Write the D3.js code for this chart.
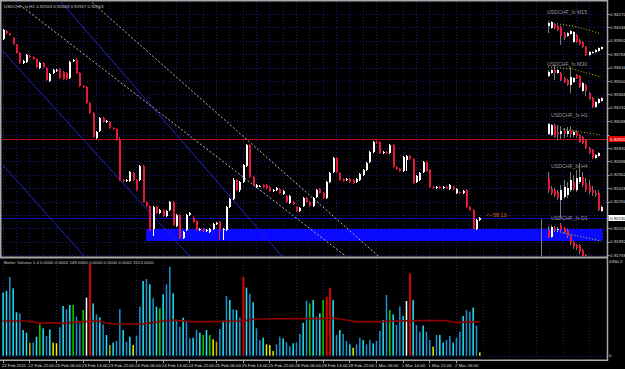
<!DOCTYPE html>
<html>
<head>
<meta charset="utf-8">
<script src="https://cdn.jsdelivr.net/npm/d3@7"></script>
<style>
  body { margin: 0; background: #000; }
  svg { display: block; }
  text { font-family: "Liberation Sans", Arial, sans-serif; }
</style>
</head>
<body>
<div id="container"></div>
<script>
// ---- data ----
const headerText = "USDCHF_fx,H1 0.92563 0.92569 0.92557 0.92563";
const volumeTitle = "Better Volume 1.4 0.0000 0.0000 149.0000 0.0000 0.0000 0.0000 1513.0000";

// H1 candles, bar 0 = 22 Feb 14:00
const opens = [.9392,.9400,.9398,.9393,.9387,.9378,.9368,.9369,.9375,.9374,
  .9372,.9363,.9368,.9363,.9350,.9358,.9360,.9362,.9359,.9358,
  .9353,.9370,.9371,.9358,.9345,.9344,.9328,.9318,.9293,.9300,
  .9313,.9309,.9309,.9303,.9302,.9291,.9251,.9250,.9250,.9258,
  .9251,.9251,.9265,.9229,.9225,.9202,.9224,.9218,.9221,.9215,
  .9221,.9229,.9205,.9216,.9193,.9201,.9216,.9213,.9210,.9201,
  .9202,.9200,.9199,.9202,.9207,.9209,.9201,.9201,.9224,.9232,
  .9251,.9241,.9249,.9265,.9286,.9254,.9244,.9245,.9246,.9246,
  .9244,.9240,.9241,.9242,.9237,.9235,.9228,.9229,.9224,.9220,
  .9225,.9233,.9229,.9225,.9234,.9242,.9238,.9233,.9249,.9259,
  .9273,.9258,.9252,.9251,.9252,.9251,.9249,.9251,.9256,.9261,
  .9269,.9279,.9289,.9289,.9278,.9279,.9278,.9286,.9264,.9262,
  .9260,.9271,.9275,.9272,.9249,.9251,.9259,.9269,.9261,.9244,
  .9243,.9244,.9243,.9244,.9242,.9244,.9238,.9239,.9238,.9241,
  .9224,.9221,.9202,.9211];
const highs = [.9402,.9401,.9398,.9394,.9387,.9379,.9371,.9377,.9376,.9375,
  .9373,.9369,.9369,.9364,.9358,.9362,.9362,.9363,.9360,.9359,
  .9370,.9372,.9373,.9359,.9346,.9345,.9329,.9319,.9300,.9314,
  .9314,.9311,.9310,.9304,.9303,.9294,.9252,.9252,.9260,.9259,
  .9252,.9266,.9266,.9230,.9226,.9225,.9225,.9222,.9222,.9221,
  .9230,.9230,.9217,.9217,.9200,.9217,.9219,.9215,.9211,.9203,
  .9203,.9202,.9203,.9208,.9209,.9210,.9203,.9225,.9233,.9253,
  .9252,.9250,.9267,.9287,.9287,.9255,.9247,.9246,.9247,.9247,
  .9245,.9242,.9244,.9243,.9241,.9236,.9236,.9230,.9225,.9224,
  .9234,.9234,.9230,.9234,.9242,.9243,.9239,.9250,.9259,.9274,
  .9274,.9259,.9253,.9253,.9253,.9252,.9253,.9258,.9262,.9269,
  .9280,.9290,.9291,.9290,.9280,.9280,.9287,.9287,.9265,.9263,
  .9275,.9276,.9276,.9273,.9256,.9259,.9270,.9270,.9262,.9245,
  .9245,.9245,.9245,.9245,.9247,.9245,.9243,.9240,.9241,.9242,
  .9225,.9222,.9212,.9214];
const lows = [.9391,.9397,.9395,.9386,.9377,.9367,.9367,.9368,.9373,.9371,
  .9363,.9362,.9363,.9350,.9349,.9357,.9359,.9352,.9351,.9351,
  .9352,.9369,.9357,.9344,.9343,.9327,.9317,.9293,.9292,.9299,
  .9308,.9308,.9302,.9301,.9290,.9250,.9249,.9249,.9249,.9250,
  .9240,.9250,.9228,.9224,.9200,.9195,.9217,.9217,.9214,.9214,
  .9220,.9205,.9204,.9192,.9192,.9200,.9215,.9208,.9200,.9200,
  .9199,.9199,.9198,.9201,.9206,.9191,.9191,.9200,.9223,.9231,
  .9240,.9239,.9248,.9264,.9253,.9245,.9243,.9244,.9243,.9242,
  .9239,.9239,.9240,.9237,.9236,.9228,.9227,.9226,.9219,.9219,
  .9224,.9228,.9224,.9224,.9233,.9237,.9232,.9232,.9248,.9258,
  .9258,.9250,.9249,.9250,.9248,.9247,.9248,.9250,.9255,.9260,
  .9268,.9278,.9287,.9277,.9277,.9277,.9277,.9263,.9261,.9259,
  .9259,.9260,.9271,.9247,.9248,.9250,.9258,.9259,.9243,.9242,
  .9242,.9242,.9242,.9242,.9241,.9241,.9237,.9237,.9237,.9223,
  .9220,.9201,.9201,.9210];
const closes = [.9401,.9398,.9396,.9387,.9378,.9368,.9370,.9376,.9374,.9372,
  .9364,.9368,.9364,.9351,.9357,.9361,.9361,.9353,.9352,.9352,
  .9369,.9371,.9358,.9345,.9344,.9328,.9318,.9294,.9299,.9313,
  .9309,.9310,.9303,.9302,.9291,.9251,.9250,.9251,.9259,.9251,
  .9241,.9265,.9229,.9225,.9201,.9224,.9218,.9221,.9215,.9220,
  .9229,.9206,.9216,.9193,.9199,.9216,.9218,.9209,.9201,.9202,
  .9200,.9201,.9202,.9207,.9208,.9201,.9202,.9224,.9232,.9251,
  .9241,.9249,.9266,.9286,.9254,.9246,.9246,.9245,.9244,.9243,
  .9240,.9241,.9243,.9238,.9240,.9229,.9235,.9227,.9220,.9223,
  .9233,.9229,.9225,.9233,.9241,.9238,.9233,.9249,.9258,.9273,
  .9259,.9251,.9250,.9252,.9249,.9248,.9252,.9257,.9261,.9268,
  .9279,.9289,.9288,.9278,.9279,.9278,.9286,.9264,.9262,.9260,
  .9274,.9275,.9272,.9248,.9255,.9258,.9269,.9260,.9244,.9243,
  .9244,.9243,.9244,.9243,.9246,.9242,.9242,.9238,.9240,.9224,
  .9221,.9202,.9211,.9213];

// Better Volume histogram
const volumes = [2836,2911,3541,3031,1951,1906,1156,1036,586,601,
  856,1411,1231,886,1186,586,556,1276,2236,2086,
  2281,2281,1756,1456,2056,2611,4111,2356,1861,1726,
  1411,931,481,586,661,2101,1156,631,856,481,
  901,2206,3361,3451,3211,2581,2206,2131,2761,3211,
  4006,2806,1606,1306,1711,1531,781,811,1156,1036,
  931,1156,931,736,631,1201,1576,2686,2506,2086,
  2056,1711,3556,3061,2776,2401,1231,706,811,511,
  481,211,511,856,781,601,436,556,601,976,
  1486,2476,2356,2506,1756,1906,2506,2656,3061,2506,
  931,1156,976,661,511,361,511,811,706,511,
  706,556,661,1111,1606,2731,2056,1861,1381,2206,
  1786,2461,3706,2506,1381,1081,1351,1081,706,406,
  931,931,586,706,886,586,811,1081,1786,2056,
  1981,2161,1351,149];
const volumeKinds = ["c","c","b","c","c","b","c","c","o","b",
  "c","g","c","b","c","y","y","b","c","b",
  "c","g","b","b","g","w","r","c","b","c",
  "b","c","o","c","b","b","c","b","c","y",
  "b","b","c","b","c","b","c","g","c","b",
  "b","c","b","b","c","b","b","c","b","c",
  "g","c","g","y","o","b","c","b","c","b",
  "c","b","r","c","b","c","b","b","c","y",
  "y","y","b","b","c","b","b","c","b","b",
  "c","b","g","c","b","c","g","r","r","c",
  "b","c","b","b","c","y","b","b","c","b",
  "b","c","b","b","c","b","g","c","b","b",
  "c","w","r","c","b","b","c","b","b","y",
  "b","c","c","b","b","c","b","b","c","b",
  "b","c","b","y"];
const volAvgBars = [0,6,9,11,14,18,24,29,31,34,42,45,48,51,56,62,72,76,88,93,100,103,106,113,118,126,133,136,140,143];
const volAvgValues = [1561,1561,1531,1456,1486,1456,1531,1561,1456,1426,1426,1486,1561,1606,1531,1531,1561,1651,1666,1666,1681,1606,1531,1531,1561,1576,1576,1486,1531,1513];

// time axis
const timeLabels = ["22 Feb 2011","22 Feb 22:00","23 Feb 06:00","23 Feb 14:00","23 Feb 22:00","24 Feb 06:00",
  "24 Feb 14:00","24 Feb 22:00","25 Feb 06:00","25 Feb 14:00","25 Feb 22:00","28 Feb 06:00",
  "28 Feb 14:00","28 Feb 22:00","1 Mar 06:00","1 Mar 14:00","1 Mar 22:00","2 Mar 06:00"];
const timeLabelBars = [0,8,16,24,32,40,48,56,64,72,80,88,96,104,112,120,128,136];

// price axis
const priceTicks = [0.94170,0.94036,0.93902,0.93768,0.93634,0.93500,0.93366,0.93232,0.93098,
  0.92964,0.92830,0.92696,0.92562,0.92428,0.92294,0.92160,0.92026,0.91892,0.91758];
const volAxisLabels = ["4350.2", "0"];

// objects on the chart: [bar1, price1, bar2, price2]
const blueTrendLines = [[0,0.9380,56,0.9175],[0,0.9266,25,0.9173],[17,0.9431,84,0.9174]];
const grayTrendLines = [[6,0.9424,104,0.9172],[26,0.9431,114,0.9171]];
const zoneBars = [43, 180];
const zonePrices = [0.9202, 0.9190];
const redLevel = 0.9292;
const blueLevel = 0.9213;
const countdownText = "<--58:13";

// multi-timeframe mini charts, rows [open, high, low, close]
const miniTitles = ["USDCHF_fx M15","USDCHF_fx M30","USDCHF_fx H1","USDCHF_fx H4","USDCHF_fx D1"];
const m15Candles = [[.9405,.9410,.9398,.9408],[.9403,.9410,.9402,.9409],[.9407,.9408,.9402,.9403],[.9405,.9406,.9400,.9401],
  [.9404,.9405,.9386,.9395],[.9398,.9399,.9391,.9393],[.9395,.9399,.9394,.9398],[.9397,.9401,.9396,.9400],
  [.9389,.9400,.9388,.9399],[.9396,.9397,.9388,.9389],[.9391,.9392,.9386,.9387],[.9389,.9390,.9383,.9384],
  [.9384,.9385,.9375,.9376],[.9376,.9380,.9375,.9379],[.9378,.9380,.9377,.9379],[.9379,.9382,.9378,.9381],
  [.9380,.9384,.9379,.9383],[.9382,.9385,.9381,.9384]];
const m30Candles = [[.9355,.9361,.9354,.9359],[.9358,.9362,.9357,.9361],[.9361,.9366,.9351,.9358],[.9358,.9362,.9357,.9361],
  [.9358,.9359,.9350,.9351],[.9353,.9354,.9348,.9349],[.9351,.9352,.9345,.9346],[.9346,.9364,.9338,.9354],
  [.9349,.9354,.9348,.9353],[.9356,.9357,.9352,.9353],[.9355,.9356,.9343,.9344],[.9340,.9349,.9339,.9348],
  [.9346,.9347,.9335,.9340],[.9338,.9339,.9331,.9332],[.9333,.9334,.9323,.9324],[.9324,.9330,.9323,.9329],
  [.9328,.9333,.9327,.9332],[.9330,.9334,.9329,.9333]];
const h1Candles = [[.9297,.9308,.9296,.9307],[.9296,.9307,.9295,.9306],[.9306,.9307,.9293,.9294],[.9299,.9306,.9291,.9297],
  [.9297,.9305,.9292,.9300],[.9300,.9303,.9293,.9298],[.9297,.9304,.9294,.9300],[.9300,.9305,.9293,.9297],
  [.9296,.9301,.9294,.9299],[.9299,.9301,.9293,.9295],[.9296,.9297,.9288,.9289],[.9294,.9295,.9287,.9288],
  [.9291,.9292,.9282,.9283],[.9283,.9284,.9277,.9278],[.9281,.9282,.9272,.9273],[.9273,.9277,.9272,.9276],
  [.9275,.9279,.9274,.9278]];
const h4Candles = [[.9253,.9259,.9238,.9241],[.9242,.9245,.9236,.9238],[.9241,.9243,.9234,.9236],[.9239,.9241,.9231,.9233],
  [.9231,.9246,.9213,.9241],[.9234,.9251,.9232,.9244],[.9236,.9249,.9233,.9243],[.9241,.9259,.9239,.9251],
  [.9249,.9256,.9240,.9242],[.9241,.9261,.9239,.9253],[.9249,.9268,.9247,.9254],[.9254,.9259,.9244,.9246],
  [.9248,.9253,.9239,.9241],[.9246,.9251,.9237,.9239],[.9241,.9245,.9235,.9238],[.9238,.9241,.9234,.9236],
  [.9238,.9241,.9220,.9221],[.9220,.9226,.9219,.9224]];
const d1Candles = [[.9201,.9205,.9193,.9194],[.9194,.9206,.9193,.9204],[.9203,.9205,.9199,.9201],[.9201,.9204,.9200,.9202],
  [.9206,.9208,.9199,.9201],[.9203,.9204,.9197,.9199],[.9201,.9202,.9193,.9195],[.9195,.9196,.9186,.9188],
  [.9189,.9190,.9182,.9184],[.9186,.9187,.9181,.9183],[.9186,.9187,.9177,.9179],[.9181,.9182,.9173,.9174],
  [.9176,.9177,.9169,.9171]];
// moving averages on the mini charts: [slot, price]
const m15Avg = [[1,.9408],[8,.9405],[13,.9401],[17,.9397]];
const m30Avg = [[0,.9364],[8,.9362],[17,.9354]];
const h1Avg = [[2,.9303],[17,.9296]];
const d1Avg = [[1,.9201],[17,.9190]];

// ---- layout ----
const width = 625, height = 369;
const axisX = 607.5;
const main = {top: 2, bottom: 256};
const vol = {top: 259, bottom: 355.7};

const svg = d3.select("#container").append("svg")
  .attr("width", width).attr("height", height)
  .style("background", "#000");

const x = d3.scaleLinear().domain([0, 180]).range([2.7, 602.7]);
const y = d3.scaleLinear().domain([0.9175, 0.9429]).range([main.bottom, main.top]);
const yVol = d3.scaleLinear().domain([0, 4350]).range([vol.bottom, vol.top]);
const xMini = d3.scaleLinear().domain([0, 17]).range([548, 601]);

const defs = svg.append("defs");
defs.append("clipPath").attr("id", "clipMain").append("rect")
  .attr("x", 1.5).attr("y", main.top).attr("width", axisX - 1.5).attr("height", main.bottom - main.top);
defs.append("clipPath").attr("id", "clipVol").append("rect")
  .attr("x", 0).attr("y", 259).attr("width", axisX).attr("height", 101);

const crisp = v => Math.round(v) + 0.5;
const gridColor = "#1a1a78";

// ---- main window ----
const gMain = svg.append("g").attr("clip-path", "url(#clipMain)");

// grid
gMain.selectAll(".vgrid").data(d3.range(0, 181, 4)).join("line")
  .attr("x1", d => crisp(x(d))).attr("x2", d => crisp(x(d)))
  .attr("y1", main.top).attr("y2", main.bottom)
  .attr("stroke", gridColor).attr("stroke-dasharray", "1,2");
gMain.selectAll(".hgrid").data(priceTicks).join("line")
  .attr("x1", 0).attr("x2", axisX)
  .attr("y1", d => crisp(y(d))).attr("y2", d => crisp(y(d)))
  .attr("stroke", gridColor).attr("stroke-dasharray", "1,2");

// blue zone
gMain.append("rect")
  .attr("x", x(zoneBars[0])).attr("width", x(zoneBars[1]) - x(zoneBars[0]))
  .attr("y", y(zonePrices[0])).attr("height", y(zonePrices[1]) - y(zonePrices[0]))
  .attr("fill", "#0a0aff");

// horizontal levels
gMain.append("line").attr("x1", 0).attr("x2", axisX)
  .attr("y1", crisp(y(redLevel))).attr("y2", crisp(y(redLevel)))
  .attr("stroke", "#b01010");
gMain.append("line").attr("x1", 0).attr("x2", axisX)
  .attr("y1", crisp(y(blueLevel))).attr("y2", crisp(y(blueLevel)))
  .attr("stroke", "#1010a8");

// trend lines
gMain.selectAll(".blueTL").data(blueTrendLines).join("line")
  .attr("x1", d => x(d[0])).attr("y1", d => y(d[1]))
  .attr("x2", d => x(d[2])).attr("y2", d => y(d[3]))
  .attr("stroke", "#2424c8").attr("stroke-width", 1);
gMain.selectAll(".grayTL").data(grayTrendLines).join("line")
  .attr("x1", d => x(d[0])).attr("y1", d => y(d[1]))
  .attr("x2", d => x(d[2])).attr("y2", d => y(d[3]))
  .attr("stroke", "#b8b8b8").attr("stroke-width", 1).attr("stroke-dasharray", "2,2");

// candles
const bull = "#ffffff", bear = "#e8173c";
const bars = d3.range(opens.length);
gMain.selectAll(".wick").data(bars).join("line")
  .attr("x1", i => Math.round(x(i)) + 0.5).attr("x2", i => Math.round(x(i)) + 0.5)
  .attr("y1", i => y(highs[i])).attr("y2", i => y(lows[i]))
  .attr("stroke", i => closes[i] >= opens[i] ? bull : bear);
gMain.selectAll(".body").data(bars).join("rect")
  .attr("x", i => Math.round(x(i)))
  .attr("width", 2)
  .attr("y", i => y(Math.max(opens[i], closes[i])))
  .attr("height", i => Math.max(1, Math.abs(y(opens[i]) - y(closes[i]))))
  .attr("fill", i => closes[i] >= opens[i] ? bull : bear);

// countdown
gMain.append("text").attr("x", 486).attr("y", 217)
  .attr("font-size", 5.5).attr("fill", "#d2691e").text(countdownText);

// mini charts
const minis = [m15Candles, m30Candles, h1Candles, h4Candles, d1Candles];
const miniAvgs = [m15Avg, m30Avg, h1Avg, null, d1Avg];
const miniTitlePos = [[547, 14], [547, 65.5], [551, 117], [551, 167.5], [551, 220]];
gMain.append("line").attr("x1", 541.5).attr("x2", 541.5).attr("y1", 219).attr("y2", main.bottom)
  .attr("stroke", "#808080");
minis.forEach((rows, k) => {
  const g = gMain.append("g");
  g.append("text").attr("x", miniTitlePos[k][0]).attr("y", miniTitlePos[k][1])
    .attr("font-size", 5.2).attr("fill", "#9a9a9a").text(miniTitles[k]);
  if (miniAvgs[k]) {
    g.append("path").datum(miniAvgs[k])
      .attr("d", d3.line().x(d => xMini(d[0])).y(d => y(d[1])))
      .attr("fill", "none").attr("stroke", "#c8c800").attr("stroke-dasharray", "1,2");
  }
  g.selectAll(".mw").data(rows).join("line")
    .attr("x1", (d, j) => Math.round(xMini(j)) + 0.5).attr("x2", (d, j) => Math.round(xMini(j)) + 0.5)
    .attr("y1", d => y(d[1])).attr("y2", d => y(d[2]))
    .attr("stroke", "#7a7a7a");
  g.selectAll(".mb").data(rows).join("rect")
    .attr("x", (d, j) => Math.round(xMini(j)))
    .attr("width", 2)
    .attr("y", d => y(Math.max(d[0], d[3])))
    .attr("height", d => Math.max(1, Math.abs(y(d[0]) - y(d[3]))))
    .attr("fill", d => d[3] >= d[0] ? bull : bear);
});

svg.append("text").attr("x", 4).attr("y", 8)
  .attr("font-size", 4.4).attr("fill", "#c8c8c8").text(headerText);

// ---- volume window ----
const gVol = svg.append("g").attr("clip-path", "url(#clipVol)");
gVol.selectAll(".vvgrid").data(d3.range(0, 181, 8)).join("line")
  .attr("x1", d => crisp(x(d))).attr("x2", d => crisp(x(d)))
  .attr("y1", vol.top).attr("y2", vol.bottom)
  .attr("stroke", gridColor).attr("stroke-dasharray", "1,2");
gVol.append("line").attr("x1", 0).attr("x2", axisX)
  .attr("y1", crisp(yVol(0))).attr("y2", crisp(yVol(0)))
  .attr("stroke", gridColor).attr("stroke-dasharray", "1,2");

const kindColor = {b: "#1b93d2", c: "#22e4fa", y: "#f4f400", o: "#c2b000", g: "#00d800", r: "#e00000", w: "#ffffff"};
gVol.selectAll(".vbar").data(volumes).join("rect")
  .attr("x", (d, i) => x(i) - 0.3)
  .attr("width", (d, i) => volumeKinds[i] === "r" ? 2 : 1.5)
  .attr("y", d => yVol(d))
  .attr("height", d => yVol(0) - yVol(d))
  .attr("fill", (d, i) => kindColor[volumeKinds[i]]);

gVol.append("path").datum(volAvgBars.map((b, k) => [b, volAvgValues[k]]))
  .attr("d", d3.line().x(d => x(d[0])).y(d => yVol(d[1])))
  .attr("fill", "none").attr("stroke", "#8c0000").attr("stroke-width", 1.6);

svg.append("text").attr("x", 4).attr("y", 264)
  .attr("font-size", 4.4).attr("fill", "#c8c8c8").text(volumeTitle);

// ---- frame ----
const frame = "#a8a8a8";
svg.append("rect").attr("x", 0).attr("y", 0).attr("width", axisX).attr("height", 1.5).attr("fill", frame);
svg.append("rect").attr("x", 0).attr("y", 256.5).attr("width", axisX).attr("height", 2).attr("fill", frame);
svg.append("rect").attr("x", 0).attr("y", 0).attr("width", 1.5).attr("height", 258).attr("fill", frame);
svg.append("rect").attr("x", 0).attr("y", 359.5).attr("width", axisX + 0.5).attr("height", 1.5).attr("fill", frame);
svg.append("rect").attr("x", axisX - 0.75).attr("y", 0).attr("width", 1.5).attr("height", 361).attr("fill", frame);

// price axis; tags replace the grid label they would cover
const lastClose = closes[closes.length - 1];
const tagPrices = [redLevel, lastClose];
const freeTicks = priceTicks.filter(p => tagPrices.every(t => Math.abs(y(p) - y(t)) > 5.5));
const axisG = svg.append("g");
axisG.selectAll(".ptick").data(priceTicks).join("line")
  .attr("x1", axisX).attr("x2", axisX + 2)
  .attr("y1", d => crisp(y(d))).attr("y2", d => crisp(y(d)))
  .attr("stroke", frame);
axisG.selectAll(".plabel").data(freeTicks).join("text")
  .attr("x", 610).attr("y", d => y(d) + 1.6)
  .attr("font-size", 4.4).attr("fill", "#d8d8d8")
  .text(d => d3.format(".5f")(d));

function priceTag(value, bg, fg) {
  axisG.append("rect").attr("x", 608.5).attr("y", y(value) - 3).attr("width", 16.5).attr("height", 6).attr("fill", bg);
  axisG.append("text").attr("x", 610).attr("y", y(value) + 1.6)
    .attr("font-size", 4.4).attr("fill", fg).text(d3.format(".5f")(value));
}
priceTag(redLevel, "#e00000", "#ffffff");
priceTag(lastClose, "#ffffff", "#000000");

// volume axis
axisG.append("text").attr("x", 609).attr("y", 263).attr("font-size", 4.4).attr("fill", "#d8d8d8").text(volAxisLabels[0]);
axisG.append("text").attr("x", 609).attr("y", 357).attr("font-size", 4.4).attr("fill", "#d8d8d8").text(volAxisLabels[1]);

// time axis
axisG.selectAll(".ttick").data(timeLabelBars).join("line")
  .attr("x1", d => crisp(x(d))).attr("x2", d => crisp(x(d)))
  .attr("y1", 361).attr("y2", 363).attr("stroke", frame);
axisG.selectAll(".tlabel").data(timeLabelBars).join("text")
  .attr("x", d => x(d) - 1).attr("y", 367)
  .attr("font-size", 4.4).attr("fill", "#d8d8d8")
  .text((d, k) => timeLabels[k]);
</script>
</body>
</html>
